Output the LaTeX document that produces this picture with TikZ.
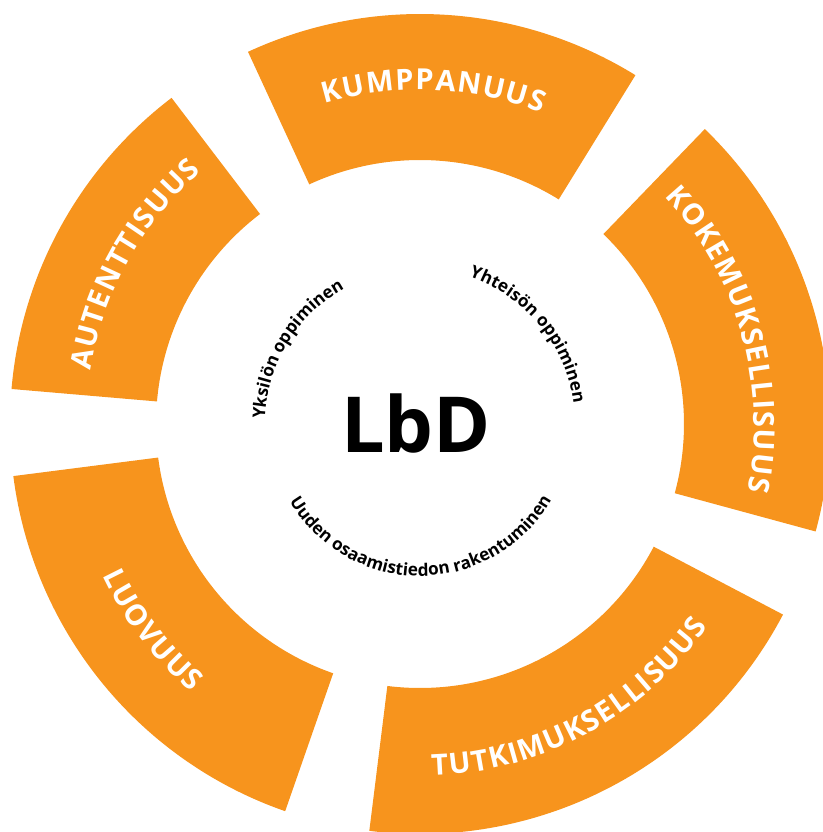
\documentclass[tikz,border=0pt]{standalone}
\usepackage{fontspec}
\setmainfont{Open Sans}
\newfontfamily\segfont{Open Sans}
\usetikzlibrary{decorations.text}

\definecolor{lbdorange}{HTML}{F7941D}

\tikzset{
  seg/.style={fill=lbdorange},
  segtext/.style={decorate, decoration={text along path, text align=center,
    text={|\segfont\bfseries\fontsize{16.5}{16.5}\selectfont\color{white}\kern0.8pt|#1}}},
  innertext/.style={decorate, decoration={text along path, text align=center,
    text={|\bfseries\fontsize{9.8}{9.8}\selectfont|#1}}}
}

% annular sector between two angles
\newcommand{\ringseg}[2]{%
  \fill[seg] (#1:264) -- (#1:410) arc[start angle=#1, end angle=#2, radius=410]
    -- (#2:264) arc[start angle=#2, end angle=#1, radius=264] -- cycle;}

\begin{document}
\begin{tikzpicture}[x=0.02cm, y=0.02cm]
  \useasboundingbox (-420,-408) rectangle (402,424);

  % ring
  \ringseg{58.3}{114.8}
  \ringseg{-15.2}{46}
  \ringseg{-97.1}{-27.7}
  \ringseg{187.3}{250.8}
  \ringseg{127.3}{175.1}

  % labels, clockwise on top, counterclockwise below
  \path[segtext=KUMPPANUUS] (132.8:334) arc[start angle=132.8, end angle=42.8, radius=334];
  \path[segtext=KOKEMUKSELLISUUS] (60.8:334) arc[start angle=60.8, end angle=-29.2, radius=334];
  \path[segtext=AUTENTTISUUS] (196:334) arc[start angle=196, end angle=106, radius=334];
  \path[segtext=LUOVUUS] (172.4:352) arc[start angle=172.4, end angle=262.4, radius=352];
  \path[segtext=TUTKIMUKSELLISUUS] (-106.7:352) arc[start angle=-106.7, end angle=-16.7, radius=352];

  % inner circle texts
  \path[innertext={Yksilön oppiminen}] (208.6:155) arc[start angle=208.6, end angle=88.6, radius=155];
  \path[innertext={Yhteisön oppiminen}] (99.6:155) arc[start angle=99.6, end angle=-20.4, radius=155];
  \path[innertext={Uuden osaamistiedon rakentuminen}] (190.4:152) arc[start angle=190.4, end angle=350.4, radius=152];

  \node[font=\bfseries\fontsize{44}{44}\selectfont] (lbd) at (-4,0) {LbD};
\end{tikzpicture}
\end{document}
